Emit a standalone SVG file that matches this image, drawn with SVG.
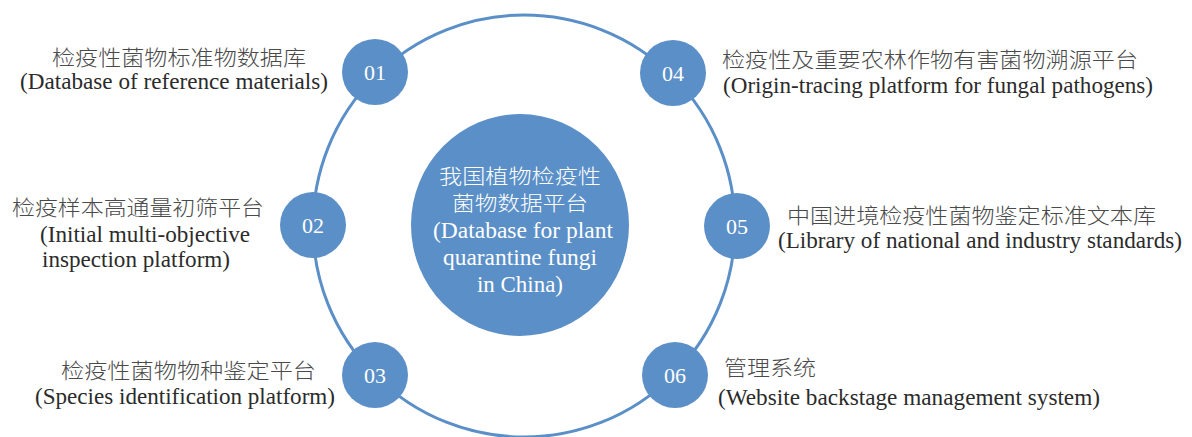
<svg xmlns="http://www.w3.org/2000/svg" width="1192" height="437" viewBox="0 0 1192 437">
<style>
.ring{fill:none;stroke:#5B8FC7;stroke-width:3}
.dot{fill:#5B8FC7}
.num{font-family:"Liberation Serif","Times New Roman",serif;font-size:22px;fill:#ffffff;text-anchor:middle}
.cn{font-family:"Noto Sans CJK SC","Noto Sans CJK JP",sans-serif;font-size:21px;font-weight:300;fill:#4a4a4a}
.en{font-family:"Liberation Serif","Times New Roman",serif;font-size:23px;fill:#2b2b2b}
.ccn{font-family:"Noto Sans CJK SC","Noto Sans CJK JP",sans-serif;font-size:20px;font-weight:300;fill:#ffffff}
.cen{font-family:"Liberation Serif","Times New Roman",serif;font-size:23px;fill:#ffffff}
</style>
<rect width="1192" height="437" fill="#ffffff"/>
<g id="connectors">
<circle class="ring" cx="524" cy="226" r="211"/>
</g>
<g id="center">
<ellipse class="dot" cx="520" cy="225" rx="109" ry="111"/>
<text class="ccn" x="439" y="184" textLength="162" lengthAdjust="spacingAndGlyphs">我国植物检疫性</text>
<text class="ccn" x="452" y="211" textLength="136" lengthAdjust="spacingAndGlyphs">菌物数据平台</text>
<text class="cen" x="433" y="238" textLength="180" lengthAdjust="spacingAndGlyphs">(Database for plant</text>
<text class="cen" x="443" y="265" textLength="154" lengthAdjust="spacingAndGlyphs">quarantine fungi</text>
<text class="cen" x="477" y="292" textLength="86" lengthAdjust="spacingAndGlyphs">in China)</text>
</g>
<g id="node01">
<circle class="dot" cx="375" cy="72" r="33"/>
<text class="num" x="375" y="80">01</text>
<text class="cn" x="52" y="65" textLength="254" lengthAdjust="spacingAndGlyphs">检疫性菌物标准物数据库</text>
<text class="en" x="20" y="89" textLength="308" lengthAdjust="spacingAndGlyphs">(Database of reference materials)</text>
</g>
<g id="node02">
<circle class="dot" cx="313" cy="225" r="33"/>
<text class="num" x="313" y="233">02</text>
<text class="cn" x="12" y="215" textLength="252" lengthAdjust="spacingAndGlyphs">检疫样本高通量初筛平台</text>
<text class="en" x="40" y="242" textLength="210" lengthAdjust="spacingAndGlyphs">(Initial multi-objective</text>
<text class="en" x="42" y="267" textLength="188" lengthAdjust="spacingAndGlyphs">inspection platform)</text>
</g>
<g id="node03">
<circle class="dot" cx="375" cy="375" r="33"/>
<text class="num" x="375" y="383">03</text>
<text class="cn" x="61" y="378" textLength="255" lengthAdjust="spacingAndGlyphs">检疫性菌物物种鉴定平台</text>
<text class="en" x="35" y="404" textLength="300" lengthAdjust="spacingAndGlyphs">(Species identification platform)</text>
</g>
<g id="node04">
<circle class="dot" cx="673" cy="73" r="33"/>
<text class="num" x="673" y="81">04</text>
<text class="cn" x="722" y="67" textLength="416" lengthAdjust="spacingAndGlyphs">检疫性及重要农林作物有害菌物溯源平台</text>
<text class="en" x="723" y="93" textLength="430" lengthAdjust="spacingAndGlyphs">(Origin-tracing platform for fungal pathogens)</text>
</g>
<g id="node05">
<circle class="dot" cx="737" cy="226" r="33"/>
<text class="num" x="737" y="234">05</text>
<text class="cn" x="787" y="223" textLength="369" lengthAdjust="spacingAndGlyphs">中国进境检疫性菌物鉴定标准文本库</text>
<text class="en" x="778" y="248" textLength="404" lengthAdjust="spacingAndGlyphs">(Library of national and industry standards)</text>
</g>
<g id="node06">
<circle class="dot" cx="675" cy="375" r="33"/>
<text class="num" x="675" y="383">06</text>
<text class="cn" x="724" y="375" textLength="92" lengthAdjust="spacingAndGlyphs">管理系统</text>
<text class="en" x="718" y="405" textLength="382" lengthAdjust="spacingAndGlyphs">(Website backstage management system)</text>
</g>
</svg>
